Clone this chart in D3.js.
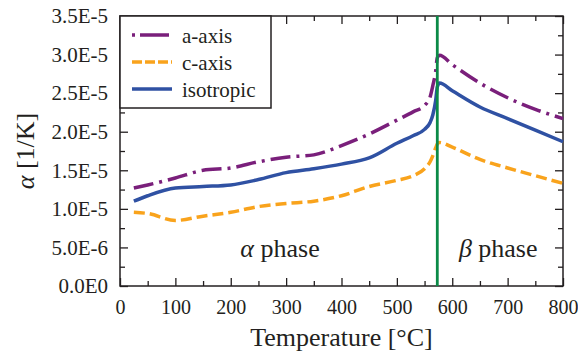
<!DOCTYPE html>
<html>
<head>
<meta charset="utf-8">
<script src="https://cdn.jsdelivr.net/npm/d3@7"></script>
<style>
body { margin: 0; background: #fff; }
.axis path { display: none; }
.axis line { stroke: #231f20; stroke-width: 1.3; }
</style>
</head>
<body>
<script>
// temperatures in degC, expansion coefficients in 1/K
var temps = [25, 50, 100, 150, 200, 250, 300, 350, 400, 450, 500, 530, 550, 560, 565, 570, 573, 577, 600, 650, 700, 750, 800];
var aAxis = [1.27e-5, 1.31e-5, 1.40e-5, 1.50e-5, 1.53e-5, 1.61e-5, 1.67e-5, 1.70e-5, 1.82e-5, 1.97e-5, 2.15e-5, 2.26e-5, 2.34e-5, 2.45e-5, 2.60e-5, 2.78e-5, 2.96e-5, 2.99e-5, 2.87e-5, 2.63e-5, 2.44e-5, 2.29e-5, 2.17e-5];
var cAxis = [0.955e-5, 0.94e-5, 0.85e-5, 0.905e-5, 0.955e-5, 1.03e-5, 1.07e-5, 1.10e-5, 1.17e-5, 1.29e-5, 1.37e-5, 1.43e-5, 1.52e-5, 1.61e-5, 1.69e-5, 1.79e-5, 1.84e-5, 1.86e-5, 1.80e-5, 1.64e-5, 1.53e-5, 1.43e-5, 1.33e-5];
var isotropic = [1.10e-5, 1.17e-5, 1.27e-5, 1.29e-5, 1.31e-5, 1.38e-5, 1.47e-5, 1.52e-5, 1.58e-5, 1.66e-5, 1.85e-5, 1.95e-5, 2.03e-5, 2.12e-5, 2.22e-5, 2.40e-5, 2.58e-5, 2.63e-5, 2.53e-5, 2.32e-5, 2.17e-5, 2.02e-5, 1.87e-5];

var seriesNames = ['a-axis', 'c-axis', 'isotropic'];
var xTicks = [0, 100, 200, 300, 400, 500, 600, 700, 800];
var xMinorTicks = [50, 150, 250, 350, 450, 550, 650, 750];
var yTicks = [0, 5e-6, 1e-5, 1.5e-5, 2e-5, 2.5e-5, 3e-5, 3.5e-5];
var yTickLabels = ['0.0E0', '5.0E-6', '1.0E-5', '1.5E-5', '2.0E-5', '2.5E-5', '3.0E-5', '3.5E-5'];
var yMinorTicks = [2.5e-6, 7.5e-6, 1.25e-5, 1.75e-5, 2.25e-5, 2.75e-5, 3.25e-5];
var transitionTemp = 573;
var phaseLabels = [{greek: '\u03b1', text: ' phase', t: 289}, {greek: '\u03b2', text: ' phase', t: 683}];

var serif = '"Liberation Serif"';
var ink = '#231f20';

var styles = {
  'a-axis': {color: '#7a1f7b', dash: '20,6,3,6'},
  'c-axis': {color: '#f9a31c', dash: '11,5'},
  'isotropic': {color: '#2f51a3', dash: null}
};
var seriesData = {'a-axis': aAxis, 'c-axis': cAxis, 'isotropic': isotropic};

var margin = {top: 16, right: 15, bottom: 68, left: 120};
var svg = d3.select(document.body).append('svg')
    .attr('width', 578)
    .attr('height', 354)
    .style('font-family', serif);
var width = 578 - margin.left - margin.right,
    height = 354 - margin.top - margin.bottom;

var g = svg.append('g')
    .attr('transform', 'translate(' + margin.left + ',' + margin.top + ')');

var x = d3.scaleLinear().domain([0, 800]).range([0, width]);
var y = d3.scaleLinear().domain([0, 3.5e-5]).range([height, 0]);

function styleLabels(size) {
  return function(sel) {
    sel.selectAll('text')
        .attr('fill', ink)
        .style('font-family', serif)
        .style('font-size', size + 'px');
  };
}

// axes, ticks pointing inward on all four sides
g.append('g').attr('class', 'axis')
    .attr('transform', 'translate(0,' + height + ')')
    .call(d3.axisBottom(x).tickValues(xTicks).tickSize(-8).tickPadding(14))
    .call(styleLabels(20));
g.append('g').attr('class', 'axis')
    .attr('transform', 'translate(0,' + height + ')')
    .call(d3.axisBottom(x).tickValues(xMinorTicks).tickSize(-5).tickFormat(''));
g.append('g').attr('class', 'axis')
    .call(d3.axisTop(x).tickValues(xTicks).tickSize(-8).tickFormat(''));
g.append('g').attr('class', 'axis')
    .call(d3.axisTop(x).tickValues(xMinorTicks).tickSize(-5).tickFormat(''));

g.append('g').attr('class', 'axis')
    .call(d3.axisLeft(y).tickValues(yTicks).tickSize(-8).tickPadding(12)
      .tickFormat(function(d, i) { return yTickLabels[i]; }))
    .call(styleLabels(21));
g.append('g').attr('class', 'axis')
    .call(d3.axisLeft(y).tickValues(yMinorTicks).tickSize(-5).tickFormat(''));
g.append('g').attr('class', 'axis')
    .attr('transform', 'translate(' + width + ',0)')
    .call(d3.axisRight(y).tickValues(yTicks).tickSize(-8).tickFormat(''));
g.append('g').attr('class', 'axis')
    .attr('transform', 'translate(' + width + ',0)')
    .call(d3.axisRight(y).tickValues(yMinorTicks).tickSize(-5).tickFormat(''));

g.append('rect')
    .attr('width', width)
    .attr('height', height)
    .attr('fill', 'none')
    .attr('stroke', ink)
    .attr('stroke-width', 1.5);

var line = d3.line()
    .x(function(d) { return x(d[0]); })
    .y(function(d) { return y(d[1]); })
    .curve(d3.curveMonotoneX);

seriesNames.forEach(function(name) {
  var pts = temps.map(function(t, i) { return [t, seriesData[name][i]]; });
  g.append('path')
      .datum(pts)
      .attr('d', line)
      .attr('fill', 'none')
      .attr('stroke', styles[name].color)
      .attr('stroke-width', 3.5)
      .attr('stroke-dasharray', styles[name].dash);
});

g.append('line')
    .attr('x1', x(transitionTemp)).attr('x2', x(transitionTemp))
    .attr('y1', 0).attr('y2', height)
    .attr('stroke', '#0b8a47')
    .attr('stroke-width', 2.8);

phaseLabels.forEach(function(p) {
  var t = g.append('text')
      .attr('x', x(p.t))
      .attr('y', 241)
      .attr('text-anchor', 'middle')
      .attr('fill', ink)
      .style('font-family', serif)
      .style('font-size', '26px');
  t.append('tspan').style('font-style', 'italic').text(p.greek);
  t.append('tspan').text(p.text);
});

// legend
var legend = g.append('g');
legend.append('rect')
    .attr('width', 151)
    .attr('height', 92)
    .attr('fill', '#fff')
    .attr('stroke', ink)
    .attr('stroke-width', 1.5);
seriesNames.forEach(function(name, i) {
  var ly = 19 + i * 27;
  legend.append('line')
      .attr('x1', 12).attr('x2', 52)
      .attr('y1', ly).attr('y2', ly)
      .attr('stroke', styles[name].color)
      .attr('stroke-width', 3.5)
      .attr('stroke-dasharray', name == 'a-axis' ? '3,5,29,5' : (name == 'c-axis' ? '10,3' : null));
  legend.append('text')
      .attr('x', 62)
      .attr('y', ly + 8)
      .attr('fill', ink)
      .style('font-family', serif)
      .style('font-size', '21px')
      .text(name);
});

// axis titles
svg.append('text')
    .attr('x', margin.left + width / 2)
    .attr('y', 346)
    .attr('text-anchor', 'middle')
    .attr('fill', ink)
    .style('font-family', serif)
    .style('font-size', '26px')
    .text('Temperature [\u00b0C]');

var yTitle = svg.append('text')
    .attr('transform', 'translate(34,' + (margin.top + height / 2) + ') rotate(-90)')
    .attr('text-anchor', 'middle')
    .attr('fill', ink)
    .style('font-family', serif)
    .style('font-size', '26px');
yTitle.append('tspan').style('font-style', 'italic').text('\u03b1');
yTitle.append('tspan').text(' [1/K]');
</script>
</body>
</html>
